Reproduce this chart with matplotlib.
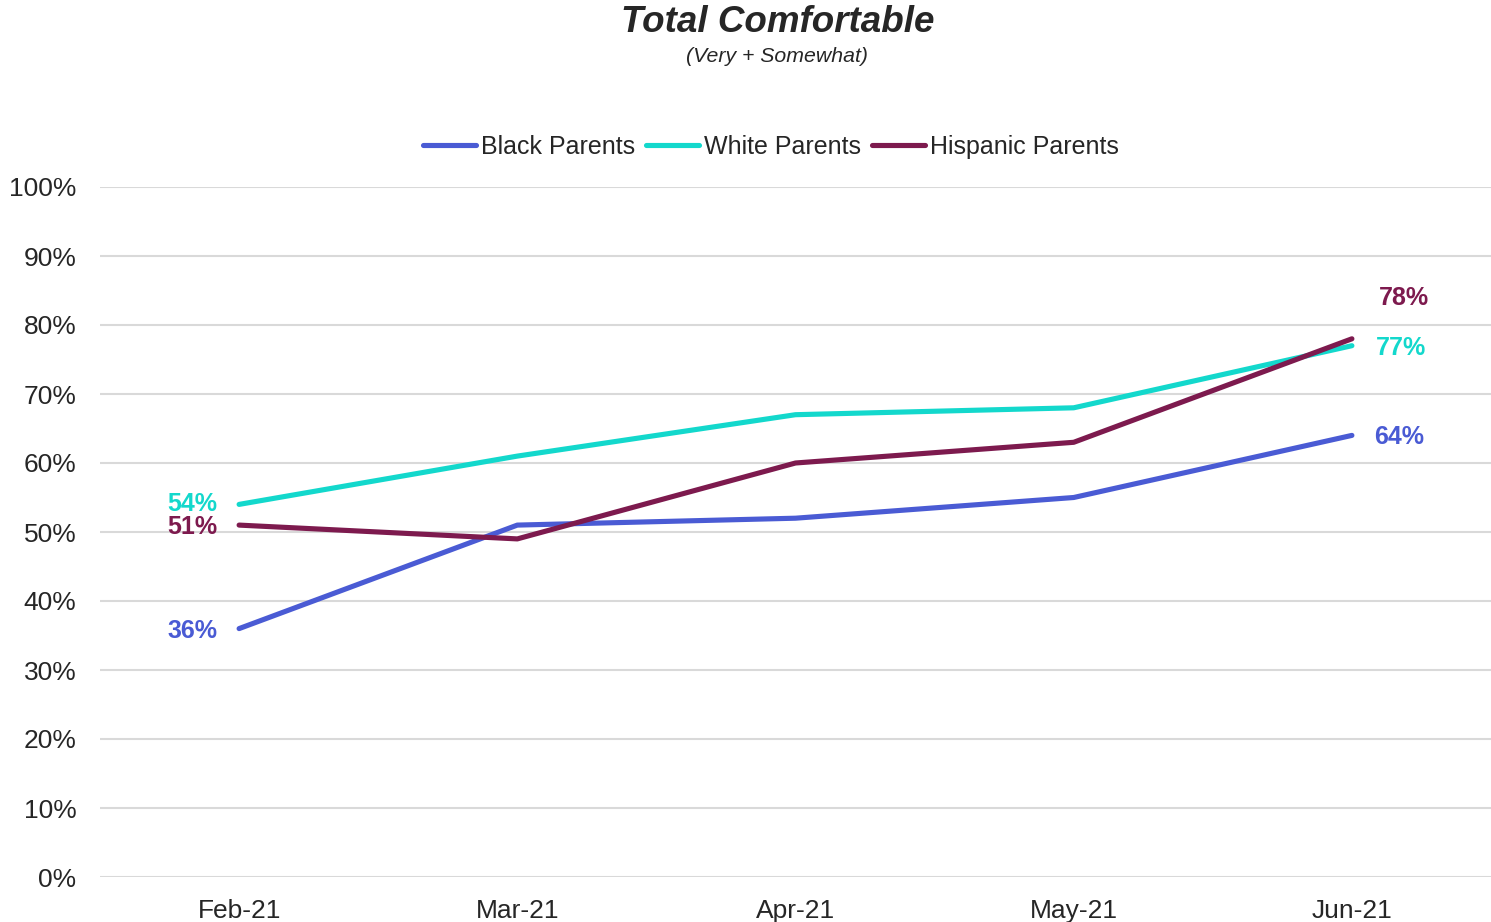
import matplotlib
matplotlib.use("Agg")
import matplotlib.pyplot as plt
from matplotlib.ticker import FuncFormatter
from matplotlib.transforms import offset_copy

plt.rcParams['font.family'] = ['Liberation Sans', 'DejaVu Sans']

months = ["Feb-21", "Mar-21", "Apr-21", "May-21", "Jun-21"]
black = [36, 51, 52, 55, 64]
white = [54, 61, 67, 68, 77]
hispanic = [51, 49, 60, 63, 78]
series_names = ["Black Parents", "White Parents", "Hispanic Parents"]
colors = ["#4A5BD4", "#13D8CC", "#7D1A4E"]

fig = plt.figure(figsize=(14.91, 9.22), dpi=100)
ax = fig.add_axes([100/1491, 1 - 877/922, 1 - 100/1491, (877-187)/922])

x = list(range(len(months)))
for vals, name, c in zip([black, white, hispanic], series_names, colors):
    ax.plot(x, vals, color=c, lw=3.7, solid_capstyle='round', label=name, zorder=3)

ax.set_xlim(-0.5, 4.5)
ax.set_ylim(0, 100)
ax.set_yticks(range(0, 101, 10))
ax.yaxis.set_major_formatter(FuncFormatter(lambda v, p: f"{int(v)}%"))
ax.set_xticks(x)
ax.set_xticklabels(months)
ax.grid(axis='y', color='#d9d9d9', lw=1.5, zorder=0)
ax.grid(axis='x', visible=False)
for s in ax.spines.values():
    s.set_visible(False)
ax.tick_params(axis='y', length=0, pad=17, labelsize=19, labelcolor='#262626')
ax.tick_params(axis='x', length=0, pad=15.5, labelsize=19, labelcolor='#262626')

# data labels
lab_font = dict(fontsize=18, fontweight='bold')
for vals, c, dy in zip([black, white, hispanic], colors, [-2, 0, -2]):
    t = offset_copy(ax.transData, fig=fig, x=-22, y=dy, units='dots')
    ax.text(x[0], vals[0], f"{vals[0]}%", color=c, ha='right', va='center', transform=t, **lab_font)
for vals, c, dy, dx in zip([black, white, hispanic], colors, [-2, -2, 41], [22, 24, 27]):
    t = offset_copy(ax.transData, fig=fig, x=dx, y=dy, units='dots')
    ax.text(x[-1], vals[-1], f"{vals[-1]}%", color=c, ha='left', va='center', transform=t, **lab_font)

leg = fig.legend(loc='center', bbox_to_anchor=(771/1491, 1 - 147/922), ncol=3, frameon=False,
                 fontsize=18, handlelength=2.1, handletextpad=0.2, columnspacing=0.45)
for txt in leg.get_texts():
    txt.set_color('#262626')

fig.text(778/1491, 1 - 22/922, "Total Comfortable", ha='center', va='center', fontsize=26.5,
         fontweight='bold', fontstyle='italic', color='#262626')
fig.text(777/1491, 1 - 57/922, "(Very + Somewhat)", ha='center', va='center', fontsize=15.3,
         fontstyle='italic', color='#262626')

fig.savefig("out.png", dpi=100)
